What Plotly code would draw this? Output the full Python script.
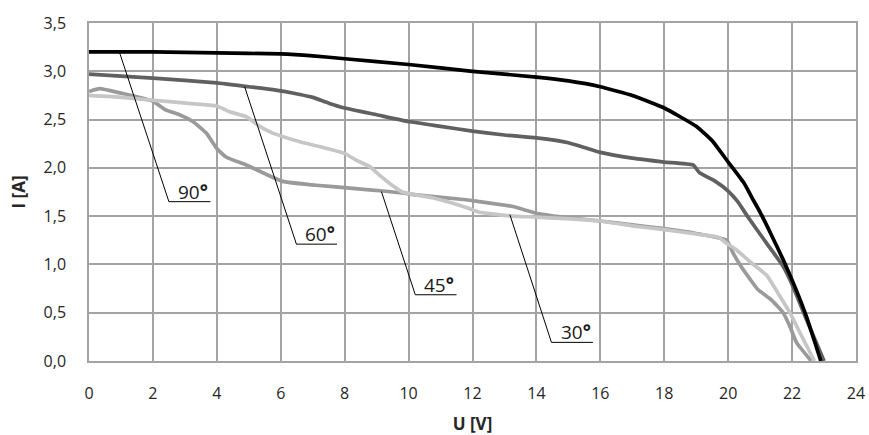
import plotly.graph_objects as go

# ---- data ----
u_90 = [0, 1, 2, 4, 6, 7, 8, 10, 12, 14, 15, 16, 17, 18, 19, 19.5, 20, 20.5, 20.78, 21, 21.36, 21.72, 22.1, 22.45, 22.9]
i_90 = [3.20, 3.20, 3.20, 3.19, 3.18, 3.16, 3.13, 3.07, 3.00, 2.94, 2.90, 2.84, 2.75, 2.62, 2.43, 2.28, 2.06, 1.84, 1.67, 1.54, 1.30, 1.05, 0.76, 0.46, 0.0]

u_60 = [0, 2, 4, 5, 5.75, 6.6, 7.0, 7.5, 8, 9, 10, 11, 12, 13, 14, 15, 15.5, 16, 17, 18, 18.9, 19.1, 19.6, 20, 20.3, 20.6, 21.2, 21.72, 22.03, 22.45, 23.0]
i_60 = [2.97, 2.93, 2.88, 2.84, 2.81, 2.76, 2.73, 2.67, 2.62, 2.55, 2.48, 2.43, 2.38, 2.34, 2.31, 2.26, 2.21, 2.16, 2.10, 2.06, 2.03, 1.95, 1.86, 1.76, 1.65, 1.50, 1.22, 0.98, 0.77, 0.43, 0.0]

u_45 = [0, 0.33, 1.05, 2, 2.4, 2.83, 3.25, 3.67, 4, 4.3, 4.92, 5.5, 6.06, 7.1, 8.16, 9.2, 9.8, 10.24, 11.8, 12.22, 13.26, 14, 14.83, 16, 17, 18, 19, 19.95, 20.15, 20.4, 20.7, 20.93, 21.36, 21.72, 21.93, 22.14, 22.6]
i_45 = [2.79, 2.82, 2.77, 2.69, 2.60, 2.55, 2.48, 2.36, 2.20, 2.11, 2.03, 1.94, 1.86, 1.82, 1.79, 1.76, 1.74, 1.72, 1.67, 1.65, 1.60, 1.53, 1.49, 1.45, 1.41, 1.37, 1.32, 1.25, 1.12, 0.98, 0.84, 0.74, 0.63, 0.50, 0.36, 0.19, 0.0]

u_30 = [0, 1.05, 2, 3.04, 4, 4.4, 4.92, 5.34, 5.75, 6.6, 8, 8.36, 8.8, 9.0, 9.25, 9.4, 9.8, 10.75, 11.8, 12.22, 13.26, 14, 16, 17, 18, 19.1, 19.7, 19.95, 20.26, 20.78, 21.2, 21.62, 21.93, 22.25, 22.7]
i_30 = [2.75, 2.73, 2.70, 2.67, 2.64, 2.58, 2.53, 2.43, 2.36, 2.27, 2.15, 2.08, 2.01, 1.95, 1.88, 1.84, 1.75, 1.69, 1.59, 1.54, 1.50, 1.49, 1.45, 1.40, 1.36, 1.31, 1.28, 1.22, 1.15, 1.00, 0.89, 0.67, 0.50, 0.29, 0.0]

# label leader lines: start on curve -> elbow -> end of underline
labels = ["90°", "60°", "45°", "30°"]
leader_u = [[0.95, 2.50, 3.80], [4.87, 6.49, 7.76], [9.15, 10.21, 11.50], [13.17, 14.47, 15.77]]
leader_i = [[3.20, 1.65, 1.65], [2.84, 1.21, 1.21], [1.755, 0.686, 0.686], [1.515, 0.193, 0.193]]
label_u = [3.24, 7.22, 10.94, 15.23]
label_i = [1.753, 1.318, 0.79, 0.296]

x_ticks = list(range(0, 25, 2))
y_ticks = [0, 0.5, 1.0, 1.5, 2.0, 2.5, 3.0, 3.5]

fig = go.Figure()

series = [
    (u_45, i_45, "#9a9a9a", "45°"),
    (u_30, i_30, "#c6c6c6", "30°"),
    (u_60, i_60, "#606060", "60°"),
    (u_90, i_90, "#000000", "90°"),
]
for u, i, c, name in series:
    fig.add_trace(go.Scatter(x=u, y=i, mode="lines", name=name,
                             line=dict(color=c, width=3.7, shape="spline", smoothing=0.4),
                             hoverinfo="x+y+name"))

for lu, li in zip(leader_u, leader_i):
    fig.add_trace(go.Scatter(x=lu, y=li, mode="lines", line=dict(color="#000000", width=1),
                             hoverinfo="skip", showlegend=False))

for t, xu, yi in zip(labels, label_u, label_i):
    fig.add_annotation(x=xu, y=yi, xref="x", yref="y", text=t.replace("°", "<b>°</b>"),
                       showarrow=False, xanchor="center", yanchor="middle",
                       font=dict(family="Open Sans", size=19, color="#1a1a1a"))

grid = "#a3a3a3"
fig.update_layout(
    width=869, height=435,
    margin=dict(l=89, r=13, t=23, b=74),
    paper_bgcolor="white", plot_bgcolor="white",
    showlegend=False,
    separators=",.",
    font=dict(family="Open Sans", size=16, color="#262626"),
    xaxis=dict(range=[0, 24], tickvals=x_ticks, showgrid=True, gridcolor=grid, gridwidth=1.5,
               showline=True, linecolor=grid, linewidth=1.5, mirror=True, zeroline=False,
               ticks="", ticklabelstandoff=17, automargin=False,
               title=dict(text="<b>U [V]</b>", font=dict(size=17, color="#262626"), standoff=16)),
    yaxis=dict(range=[0, 3.5], tickvals=y_ticks, tickformat=".1f", showgrid=True, gridcolor=grid,
               gridwidth=1.5, showline=True, linecolor=grid, linewidth=1.5, mirror=True,
               zeroline=False, ticks="", ticklabelstandoff=18, automargin=False,
               title=dict(text="<b>I [A]</b>", font=dict(size=17, color="#262626"), standoff=14)),
)

fig.write_html("out.html")
